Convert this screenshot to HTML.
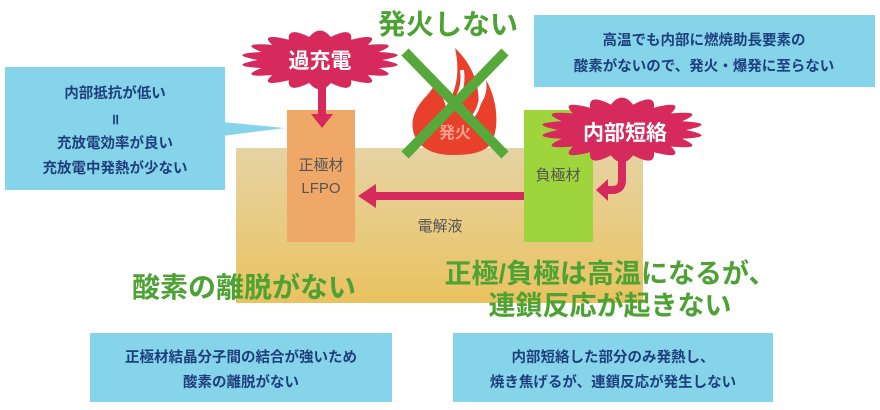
<!DOCTYPE html>
<html><head><meta charset="utf-8"><style>
html,body{margin:0;padding:0;background:#fff;}
body{width:880px;height:410px;overflow:hidden;position:relative;font-family:"Liberation Sans","Noto Sans CJK JP",sans-serif;}
</style></head><body>
<svg width="880" height="410" viewBox="0 0 880 410" xmlns="http://www.w3.org/2000/svg" style="position:absolute;left:0;top:0" font-family="Liberation Sans, Noto Sans CJK JP, sans-serif">
<defs>
<linearGradient id="el" x1="0" y1="0" x2="0" y2="1">
<stop offset="0" stop-color="#e6d3a4"/><stop offset="1" stop-color="#eac260"/>
</linearGradient>
</defs>
<rect x="236" y="148" width="407" height="155" fill="url(#el)"/>
<polygon points="222,122 285,128 222,136" fill="#85d4ea"/>
<rect x="5" y="67" width="220" height="123" fill="#85d4ea"/>
<g fill="#1f3f7c" font-size="14.5" font-weight="bold" text-anchor="middle">
<text x="115" y="98">内部抵抗が低い</text>
<text x="115" y="124">॥</text>
<text x="115" y="148">充放電効率が良い</text>
<text x="115" y="173">充放電中発熱が少ない</text>
</g>
<rect x="534" y="15" width="341" height="72" fill="#85d4ea"/>
<g fill="#1f3f7c" font-size="14.5" font-weight="bold" text-anchor="middle">
<text x="704" y="45">高温でも内部に燃焼助長要素の</text>
<text x="704" y="71">酸素がないので、発火・爆発に至らない</text>
</g>
<rect x="90" y="333" width="302" height="69" fill="#85d4ea"/>
<g fill="#1f3f7c" font-size="14.5" font-weight="bold" text-anchor="middle">
<text x="241" y="362">正極材結晶分子間の結合が強いため</text>
<text x="241" y="387">酸素の離脱がない</text>
</g>
<rect x="453" y="333" width="320" height="69" fill="#85d4ea"/>
<g fill="#1f3f7c" font-size="14.5" font-weight="bold" text-anchor="middle">
<text x="613" y="362">内部短絡した部分のみ発熱し、</text>
<text x="613" y="387">焼き焦げるが、連鎖反応が発生しない</text>
</g>
<rect x="287" y="110" width="68" height="132" fill="#f0a868"/>
<rect x="524" y="110" width="69" height="132" fill="#9ed43c"/>
<g fill="#555" font-size="15" text-anchor="middle">
<text x="321" y="170">正極材</text>
<text x="321" y="193">LFPO</text>
<text x="558" y="180">負極材</text>
<text x="440" y="231">電解液</text>
</g>
<rect x="372" y="192" width="152" height="8" fill="#d62a5c"/>
<polygon points="358,196 376,184 376,208" fill="#d62a5c"/>
<g fill="#e8402a">
<path d="M452,155 C420,155 408,135 414,115 C420,98 432,95 436,80 C440,96 446,100 446,110 C452,95 462,80 455,48 C478,70 480,95 478,108 C484,100 488,92 486,80 C498,100 500,130 490,145 C482,153 470,155 452,155Z"/>
</g>
<path d="M448,112 C455,100 465,92 462,70" stroke="#fff" stroke-width="4" fill="none"/>
<path d="M470,120 C478,112 482,100 480,90" stroke="#fff" stroke-width="3" fill="none"/>
<text x="455" y="138" fill="#f4a290" font-size="16" font-weight="bold" text-anchor="middle">発火</text>
<g stroke="#56a83a" stroke-width="10">
<line x1="405" y1="52" x2="505" y2="155"/>
<line x1="505" y1="52" x2="405" y2="155"/>
</g>
<path id="b1" fill="#d62a5c"/>
<path id="b2" fill="#d62a5c"/>
<rect x="318" y="85" width="8" height="32" fill="#d62a5c"/>
<polygon points="311,114 333,114 322,128" fill="#d62a5c"/>
<path d="M622,158 L622,180 Q622,190 612,190 L605,190" stroke="#d62a5c" stroke-width="8" fill="none"/>
<polygon points="596,190 608,179 608,201" fill="#d62a5c"/>
<text x="320" y="68" fill="#fff" font-size="21" font-weight="bold" text-anchor="middle">過充電</text>
<text x="625" y="140" fill="#fff" font-size="21" font-weight="bold" text-anchor="middle">内部短絡</text>
<g fill="#4ca232" font-weight="bold" text-anchor="middle">
<text x="448" y="34" font-size="28">発火しない</text>
<text x="244" y="297" font-size="28">酸素の離脱がない</text>
<text x="610" y="283" font-size="27">正極/負極は高温になるが、</text>
<text x="610" y="315" font-size="27">連鎖反応が起きない</text>
</g>
</svg>
<script>
function burst(id,cx,cy,rx,ry,n){
 var d="";
 for(var i=0;i<n;i++){
  var a0=2*Math.PI*i/n, a1=2*Math.PI*(i+0.5)/n, a2=2*Math.PI*(i+1)/n;
  var x0=cx+rx*0.78*Math.cos(a0), y0=cy+ry*0.78*Math.sin(a0);
  var xm=cx+rx*1.2*Math.cos(a1), ym=cy+ry*1.2*Math.sin(a1);
  var x2=cx+rx*0.78*Math.cos(a2), y2=cy+ry*0.78*Math.sin(a2);
  if(i==0) d+="M"+x0+","+y0;
  d+=" Q"+xm+","+ym+" "+x2+","+y2;
 }
 document.getElementById(id).setAttribute("d",d+"Z");
}
burst("b1",320,60,80,30,18);
burst("b2",622,130,82,33,18);
</script>
</body></html>
